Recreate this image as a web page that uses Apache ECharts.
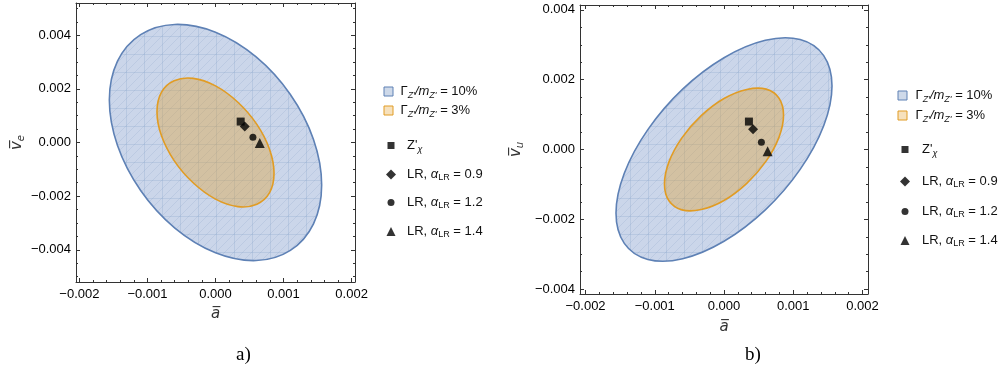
<!DOCTYPE html>
<html>
<head>
<meta charset="utf-8">
<script src="https://cdn.jsdelivr.net/npm/echarts@6/dist/echarts.min.js"></script>
<style>
html, body { margin: 0; padding: 0; background: #fff; }
#chart { width: 1006px; height: 372px; }
</style>
</head>
<body>
<div id="chart"></div>
<script>
// tick labels
var xTicks = [-0.002, -0.001, 0, 0.001, 0.002];
var yTicks = [-0.004, -0.002, 0, 0.002, 0.004];

// contour outlines, [a, v]
var blueA = [[0.00156,-0.00158],[0.00144,-0.00303],[0.00110,-0.00402],[0.000597,-0.00440],[0,-0.00411],[-0.000597,-0.00319],[-0.00110,-0.00179],[-0.00144,-0.000115],
  [-0.00156,0.00158],[-0.00144,0.00303],[-0.00110,0.00402],[-0.000597,0.00440],[0,0.00411],[0.000597,0.00319],[0.00110,0.00179],[0.00144,0.000115]];
var orangeA = [[0.00086,-0.00115],[0.000795,-0.00187],[0.000608,-0.00230],[0.000329,-0.00239],[0,-0.00211],[-0.000329,-0.00150],[-0.000608,-0.000674],[-0.000795,0.000259],
  [-0.00086,0.00115],[-0.000795,0.00187],[-0.000608,0.00230],[-0.000329,0.00239],[0,0.00211],[0.000329,0.00150],[0.000608,0.000674],[0.000795,-0.000259]];
var blueB = [[0.00156,0.00182],[0.00144,0.000679],[0.00110,-0.000570],[0.000597,-0.00173],[0,-0.00263],[-0.000597,-0.00313],[-0.00110,-0.00315],[-0.00144,-0.00269],
  [-0.00156,-0.00182],[-0.00144,-0.000679],[-0.00110,0.000570],[-0.000597,0.00173],[0,0.00263],[0.000597,0.00313],[0.00110,0.00315],[0.00144,0.00269]];
var orangeB = [[0.00086,0.000986],[0.000795,0.000354],[0.000608,-0.000333],[0.000329,-0.000969],[0,-0.00146],[-0.000329,-0.00172],[-0.000608,-0.00173],[-0.000795,-0.00147],
  [-0.00086,-0.000986],[-0.000795,-0.000354],[-0.000608,0.000333],[-0.000329,0.000969],[0,0.00146],[0.000329,0.00172],[0.000608,0.00173],[0.000795,0.00147]];

// benchmark models: Z'chi, LR 0.9, LR 1.2, LR 1.4
var pointsA = [[0.00037,0.00078],[0.00043,0.00060],[0.00055,0.00020],[0.00065,-0.00002]];
var pointsB = [[0.00036,0.00080],[0.00042,0.00058],[0.00054,0.00021],[0.00063,-0.00005]];

var markerNames = ['Zx', 'LR09', 'LR12', 'LR14'];
var markerIcons = ['rect', 'diamond', 'circle', 'triangle'];
var markerSizes = [8, 10, 7, 10];
var legendSizes = [7, 10, 7, 9];

var labels = {
  G10: '{n|\u0393}{is|Z\'}{i|/m}{is|Z\'}{n| = 10%}',
  G3: '{n|\u0393}{is|Z\'}{i|/m}{is|Z\'}{n| = 3%}',
  Zx: '{n|Z\'}{is|\u03c7}',
  LR09: '{n|LR, }{i|\u03b1}{s|LR}{n| = 0.9}',
  LR12: '{n|LR, }{i|\u03b1}{s|LR}{n| = 1.2}',
  LR14: '{n|LR, }{i|\u03b1}{s|LR}{n| = 1.4}'
};

var FONT = 'Liberation Sans';
var INK = '#000';
var BLUE = '#5E81B5', ORANGE = '#E19C24';
var BLUE_SWATCH = 'rgba(94,129,181,0.3)', ORANGE_SWATCH = 'rgba(225,156,36,0.3)';
var ORANGE_FILL = 'rgba(225,156,36,0.36)';

// faint mesh like the one in the exported figure
function meshFill() {
  var c = document.createElement('canvas');
  c.width = 18; c.height = 18;
  var g = c.getContext('2d');
  g.fillStyle = '#cbd6ea';
  g.fillRect(0, 0, 18, 18);
  g.strokeStyle = 'rgba(120,150,195,0.22)';
  g.lineWidth = 1;
  g.beginPath();
  g.moveTo(0.5, 0); g.lineTo(0.5, 18);
  g.moveTo(0, 0.5); g.lineTo(18, 0.5);
  g.stroke();
  g.strokeStyle = 'rgba(120,150,195,0.18)';
  g.beginPath();
  g.moveTo(0, 9); g.lineTo(9, 0);
  g.moveTo(0, 18); g.lineTo(18, 0);
  g.moveTo(9, 18); g.lineTo(18, 9);
  g.stroke();
  return { image: c, repeat: 'repeat' };
}
var BLUE_FILL = meshFill();

function minorOf(majors, step) {
  var out = [];
  var lo = majors[0] - 10 * step, hi = majors[majors.length - 1] + 10 * step;
  for (var v = lo; v <= hi + 1e-12; v += step) out.push(+v.toFixed(6));
  return out;
}

function fmt(v) {
  return (v < -1e-9 ? '\u2212' : '') + Math.abs(v).toFixed(3);
}

function richText(pad) {
  return {
    p: { width: pad, fontSize: 13, lineHeight: 16 },
    n: { fontSize: 13, fontFamily: FONT, color: '#111', lineHeight: 16 },
    i: { fontSize: 13, fontFamily: FONT, color: '#111', fontStyle: 'italic', lineHeight: 16 },
    s: { fontSize: 9, fontFamily: FONT, color: '#111', verticalAlign: 'bottom', lineHeight: 16 },
    is: { fontSize: 9, fontFamily: FONT, color: '#111', fontStyle: 'italic', verticalAlign: 'bottom', lineHeight: 16 }
  };
}

var xAxes = [], yAxes = [];

function addAxes(g, xr, yr, xGap, yGap, yName) {
  var xMinor = minorOf(xTicks, 0.0002), yMinor = minorOf(yTicks, 0.0005);
  var line = { show: true, onZero: false, lineStyle: { color: '#333', width: 1 } };
  var noLine = { show: false, onZero: false };
  ['bottom', 'top'].forEach(function (pos) {
    xAxes.push({
      gridIndex: g, type: 'value', min: xr[0], max: xr[1], position: pos,
      axisLine: line, splitLine: { show: false },
      axisTick: { show: true, inside: true, length: 4, customValues: xTicks, lineStyle: { color: '#333' } },
      axisLabel: pos === 'bottom'
        ? { show: true, customValues: xTicks, formatter: fmt, margin: 6, fontSize: 13, fontFamily: FONT, color: INK }
        : { show: false },
      name: pos === 'bottom' ? 'a\u0305' : '', nameLocation: 'middle', nameGap: xGap,
      nameTextStyle: { fontSize: 15, fontFamily: 'DejaVu Sans', fontStyle: 'italic', color: '#333' }
    });
    xAxes.push({
      gridIndex: g, type: 'value', min: xr[0], max: xr[1], position: pos,
      axisLine: noLine, splitLine: { show: false }, axisLabel: { show: false },
      axisTick: { show: true, inside: true, length: 2, customValues: xMinor, lineStyle: { color: '#333' } }
    });
  });
  ['left', 'right'].forEach(function (pos) {
    yAxes.push({
      gridIndex: g, type: 'value', min: yr[0], max: yr[1], position: pos,
      axisLine: line, splitLine: { show: false },
      axisTick: { show: true, inside: true, length: 4, customValues: yTicks, lineStyle: { color: '#333' } },
      axisLabel: pos === 'left'
        ? { show: true, customValues: yTicks, formatter: fmt, margin: 5, fontSize: 13, fontFamily: FONT, color: INK }
        : { show: false },
      name: pos === 'left' ? '{v|v\u0305}{e|' + yName + '}' : '', nameLocation: 'middle', nameGap: yGap, nameRotate: 90,
      nameTextStyle: {
        rich: {
          v: { fontSize: 15, fontFamily: 'DejaVu Sans', fontStyle: 'italic', color: '#333', lineHeight: 18 },
          e: { fontSize: 10, fontFamily: 'DejaVu Sans', fontStyle: 'italic', color: '#333', verticalAlign: 'bottom', lineHeight: 18 }
        }
      }
    });
    yAxes.push({
      gridIndex: g, type: 'value', min: yr[0], max: yr[1], position: pos,
      axisLine: noLine, splitLine: { show: false }, axisLabel: { show: false },
      axisTick: { show: true, inside: true, length: 2, customValues: yMinor, lineStyle: { color: '#333' } }
    });
  });
}

addAxes(0, [-0.00205, 0.00205], [-0.0052, 0.0052], 25, 50, 'e');
addAxes(1, [-0.00208, 0.00208], [-0.00414, 0.00414], 26, 55, 'u');

function contour(name, pts, g, stroke, fill) {
  return {
    type: 'custom', name: name, xAxisIndex: g * 4, yAxisIndex: g * 4, silent: true,
    itemStyle: { color: stroke, borderColor: stroke },
    data: pts,
    renderItem: function (params, api) {
      if (params.dataIndex !== 0) return;
      var poly = pts.map(function (p) { return api.coord(p); });
      return {
        type: 'polygon',
        shape: { points: poly, smooth: 0.35 },
        style: { fill: fill, stroke: stroke, lineWidth: 1.6 }
      };
    }
  };
}

var series = [
  contour('G10', blueA, 0, BLUE, BLUE_FILL),
  contour('G3', orangeA, 0, ORANGE, ORANGE_FILL),
  contour('G10', blueB, 1, BLUE, BLUE_FILL),
  contour('G3', orangeB, 1, ORANGE, ORANGE_FILL)
];
[pointsA, pointsB].forEach(function (pts, g) {
  pts.forEach(function (p, k) {
    series.push({
      type: 'scatter', name: markerNames[k], xAxisIndex: g * 4, yAxisIndex: g * 4,
      symbol: markerIcons[k], symbolSize: markerSizes[k],
      itemStyle: { color: '#000' }, data: [p], z: 5
    });
  });
});

// one legend per row, so rows can sit where the reference has them
var legends = [];
function legendRow(name, cx, cy, size, textX, icon, style) {
  var left = cx - size / 2;
  var pad = Math.max(0, textX - (left + size + 5));
  legends.push({
    left: left, top: cy - 8, padding: 0, itemWidth: size, itemHeight: size, selectedMode: false,
    data: [{ name: name, icon: icon, itemStyle: style }],
    formatter: function (n) { return '{p| }' + labels[n]; },
    textStyle: { rich: richText(pad) }
  });
}
var swatch10 = { color: BLUE_SWATCH, borderColor: BLUE, borderWidth: 1 };
var swatch3 = { color: ORANGE_SWATCH, borderColor: ORANGE, borderWidth: 1 };
[
  { sx: 388, mx: 391, st: 400, mt: 407, rows: [93, 112, 147, 176, 204, 233] },
  { sx: 902, mx: 905, st: 915, mt: 922, rows: [97, 117, 151, 183, 213, 242] }
].forEach(function (c) {
  legendRow('G10', c.sx, c.rows[0], 9, c.st, 'rect', swatch10);
  legendRow('G3', c.sx, c.rows[1], 9, c.st, 'rect', swatch3);
  markerNames.forEach(function (n, k) {
    legendRow(n, c.mx, c.rows[k + 2], legendSizes[k], c.mt, markerIcons[k], { color: '#000' });
  });
});

var chart = echarts.init(document.getElementById('chart'), null, { renderer: 'canvas' });
chart.setOption({
  animation: false,
  backgroundColor: '#fff',
  title: [
    { text: 'a)', left: 231, top: 341, textStyle: { fontFamily: 'Liberation Serif', fontSize: 19, fontWeight: 'normal', color: '#000' } },
    { text: 'b)', left: 740, top: 341, textStyle: { fontFamily: 'Liberation Serif', fontSize: 19, fontWeight: 'normal', color: '#000' } }
  ],
  grid: [
    { left: 76, top: 3, width: 279, height: 279 },
    { left: 580, top: 5, width: 288, height: 289 }
  ],
  xAxis: xAxes,
  yAxis: yAxes,
  legend: legends,
  series: series
});
</script>
</body>
</html>
